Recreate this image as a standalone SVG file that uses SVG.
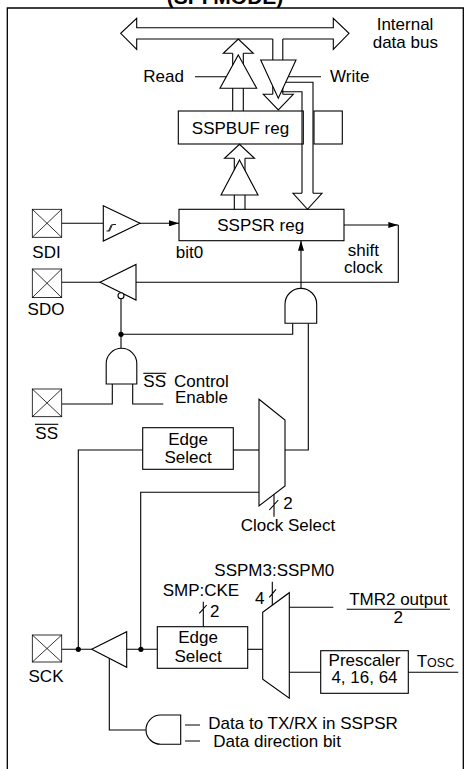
<svg xmlns="http://www.w3.org/2000/svg" width="470" height="769" viewBox="0 0 470 769">
<defs>
<style>
.s{stroke:#000;stroke-width:1.1;fill:none}
.w{stroke:#000;stroke-width:1.1;fill:#fff}
.p{stroke:#000;stroke-width:0.8;fill:#fff}
.t{font-family:"Liberation Sans",Arial,Helvetica,sans-serif;font-size:17px;fill:#000}
.c{text-anchor:middle}
.dot{fill:#000}
</style>
<marker id="ah" viewBox="0 0 10 6" refX="10" refY="3" markerWidth="10" markerHeight="6" orient="auto" markerUnits="userSpaceOnUse"><path d="M0,0 L10,3 L0,6 Z" fill="#000"/></marker>
</defs>
<rect width="470" height="769" fill="#fff"/>
<text class="t c" x="225" y="4" style="font-size:21px;font-weight:bold">(SPI MODE)</text>
<path class="s" style="stroke-width:1.3" d="M7.3,769 V8 H463.3 V769"/>

<g id="connectors">
  <path class="s" d="M61.7,223.3 H103.3"/>
  <path class="s" d="M140,223.3 H179" marker-end="url(#ah)"/>
  <path class="s" d="M344,225 H398.3" marker-end="url(#ah)"/>
  <path class="s" d="M398.3,225 V282.3 H136"/>
  <path class="s" d="M100,282.3 H61.7"/>
  <path class="s" d="M121,299 V334.3 H292.7 V323.3"/>
  <path class="s" d="M301,288.3 V240.7" marker-end="url(#ah)"/>
  <path class="s" d="M308.3,323.3 V450 H285"/>
  <path class="s" d="M121,348.3 V334.3"/>
  <path class="s" d="M61.7,404 H112.3 V384"/>
  <path class="s" d="M132.7,384 V404 H163.3"/>
  <path class="s" d="M233.3,450 H259"/>
  <path class="s" d="M142.7,450 H78.3 V649.3"/>
  <path class="s" d="M259,492.3 H140.7 V649.3"/>
  <path class="s" d="M274,494.5 V516.7 M269.3,510 L278.3,500"/>
  <path class="s" d="M61.7,649.3 H91.7 M126.7,649.3 H157.3"/>
  <path class="s" d="M109.3,658.4 V730 H146"/>
  <path class="s" d="M185,725 H200 M185,741 H200"/>
  <path class="s" d="M203.3,601.7 V626.7 M199.3,613.3 L206.7,605"/>
  <path class="s" d="M247.7,649.3 H262.7"/>
  <path class="s" d="M272.3,581.7 V605.2 M269.3,597.3 L276,589.3"/>
  <path class="s" d="M289.3,607.3 H333.3"/>
  <path class="s" d="M289.3,672.3 H320.7 M408.3,672.3 H458.3"/>
  <path class="s" d="M195,76.7 H226.5 M288.3,76.7 H321"/>
  <path class="s" d="M284,82.3 H313 V193.3 M280,91.7 H302 V193.3"/>
  <path class="s" d="M302,193.3 H293 L307.5,209.3 L322,193.3 H313"/>
  <circle class="dot" cx="121" cy="334.3" r="2.6"/>
  <circle class="dot" cx="78.3" cy="649.3" r="2.6"/>
  <circle class="dot" cx="140.9" cy="649.3" r="2.6"/>
</g>

<g id="bus">
  <path class="s" d="M282.8,39 H333.3 V49.3 L349,33.3 L333.3,18.3 V27.7 H136.7 V18.3 L120.7,33.3 L136.7,49.3 V39 H272.8"/>
  <text class="t" x="376.7" y="30">Internal</text>
  <text class="t" x="372.7" y="48.3">data bus</text>
</g>

<g id="read-buffer">
  <path class="s" d="M232.7,53.3 V111 M243.3,53.3 V111"/>
  <path class="s" d="M232.7,53.3 H223.3 L238.3,39 L253.3,53.3 H243.3"/>
  <polygon class="w" points="238.3,55 256.7,88.3 220,88.3"/>
  <text class="t" x="143.3" y="81.7">Read</text>
</g>

<g id="write-buffer">
  <path class="s" d="M272.8,39 V94.3 M282.8,39 V94.3"/>
  <polygon class="w" points="260.7,60 296,60 278.3,98.3"/>
  <path class="s" d="M272.8,94.3 H263.3 L278.3,110 L293.3,94.3 H282.8"/>
  <text class="t" x="330" y="81.7">Write</text>
</g>

<g id="sspbuf">
  <rect class="s" x="178.3" y="111" width="125" height="33"/>
  <rect class="s" x="314" y="111" width="28.3" height="33"/>
  <text class="t c" x="240.5" y="134.3">SSPBUF reg</text>
</g>

<g id="load-buffer">
  <path class="s" d="M234.3,158.3 V209.3 M245,158.3 V209.3"/>
  <path class="s" d="M234.3,158.3 H224.5 L239.5,144.3 L254.5,158.3 H245"/>
  <polygon class="w" points="239.5,160 258,195 221,195"/>
</g>

<g id="sspsr">
  <rect class="s" x="179" y="209.3" width="165" height="31.4"/>
  <text class="t c" x="260.7" y="231">SSPSR reg</text>
  <text class="t" x="175.7" y="258.3">bit0</text>
  <text class="t c" x="363.3" y="255.7">shift</text>
  <text class="t c" x="363.3" y="273.3">clock</text>
</g>

<g id="pin-sdi">
  <rect class="p" x="32.3" y="209.3" width="29.4" height="28"/>
  <path class="s" style="stroke-width:0.8" d="M32.3,209.3 L61.7,237.3 M61.7,209.3 L32.3,237.3"/>
  <text class="t c" x="46.5" y="258.3">SDI</text>
</g>

<g id="schmitt">
  <polygon class="w" points="103.3,205.7 140,223.3 103.3,241"/>
  <path class="s" style="stroke-width:0.9" d="M106.5,231 H109.5 L112.5,224.5 H116 M108.5,231 L111.5,224.5"/>
</g>

<g id="pin-sdo">
  <rect class="p" x="32.3" y="269" width="29.4" height="28.6"/>
  <path class="s" style="stroke-width:0.8" d="M32.3,269 L61.7,297.6 M61.7,269 L32.3,297.6"/>
  <text class="t c" x="46" y="315">SDO</text>
</g>

<g id="sdo-buffer">
  <polygon class="w" points="100,282.3 136,264.5 136,300"/>
  <circle class="w" cx="121" cy="295.8" r="3"/>
</g>

<g id="and-shift">
  <path class="w" d="M285,323.3 V304.2 A15.85,15.85 0 0 1 316.7,304.2 V323.3 Z"/>
</g>

<g id="and-ss">
  <path class="w" d="M106.2,384 V363.6 A15.3,15.3 0 0 1 136.8,363.6 V384 Z"/>
  <text class="t" x="143.3" y="387.3">SS</text>
  <path class="s" d="M143.3,373.3 H166.3"/>
  <text class="t" x="174" y="387.3">Control</text>
  <text class="t" x="175" y="403.3">Enable</text>
</g>

<g id="pin-ss">
  <rect class="p" x="32.3" y="389" width="29.4" height="27.7"/>
  <path class="s" style="stroke-width:0.8" d="M32.3,389 L61.7,416.7 M61.7,389 L32.3,416.7"/>
  <text class="t c" x="46.7" y="439.3">SS</text>
  <path class="s" d="M35,424.3 H58.3"/>
</g>

<g id="edge-select-1">
  <rect class="s" x="142.7" y="427.7" width="90.6" height="41.6"/>
  <text class="t c" x="188" y="445">Edge</text>
  <text class="t c" x="188" y="462.7">Select</text>
</g>

<g id="mux-clock">
  <polygon class="s" points="259,399.3 285,420 285,486 259,506"/>
  <text class="t" x="283.3" y="509.3">2</text>
  <text class="t" x="240.7" y="530.7">Clock Select</text>
</g>

<g id="pin-sck">
  <rect class="p" x="32.3" y="635" width="29.4" height="27"/>
  <path class="s" style="stroke-width:0.8" d="M32.3,635 L61.7,662 M61.7,635 L32.3,662"/>
  <text class="t c" x="46" y="681.7">SCK</text>
</g>

<g id="sck-buffer">
  <polygon class="w" points="91.7,649.3 126.7,631.7 126.7,667.3"/>
</g>

<g id="edge-select-2">
  <rect class="s" x="157.3" y="626.7" width="90.4" height="41.6"/>
  <text class="t c" x="198" y="643.3">Edge</text>
  <text class="t c" x="198" y="661.7">Select</text>
  <text class="t" x="162.7" y="596">SMP:CKE</text>
  <text class="t" x="210" y="617.3">2</text>
</g>

<g id="mux-mode">
  <polygon class="s" points="262.7,612.3 289.3,592.7 289.3,698.3 262.7,679.3"/>
  <text class="t" x="214.3" y="575.7">SSPM3:SSPM0</text>
  <text class="t" x="255" y="604.3">4</text>
</g>

<g id="tmr2">
  <text class="t c" x="398.3" y="605">TMR2 output</text>
  <path class="s" d="M346.7,609.3 H450"/>
  <text class="t c" x="398.3" y="623.3">2</text>
</g>

<g id="prescaler">
  <rect class="s" x="320.7" y="650.7" width="87.6" height="42.6"/>
  <text class="t c" x="364.5" y="666">Prescaler</text>
  <text class="t c" x="364.5" y="683.3">4, 16, 64</text>
  <text class="t" x="416.7" y="667.3">T<tspan style="font-size:12.5px">OSC</tspan></text>
</g>

<g id="and-dir">
  <path class="w" d="M180.7,715 H160.65 A14.65,14.65 0 0 0 160.65,744.3 H180.7 Z"/>
  <text class="t" x="208.3" y="729">Data to TX/RX in SSPSR</text>
  <text class="t" x="213.3" y="746.7">Data direction bit</text>
</g>
</svg>
